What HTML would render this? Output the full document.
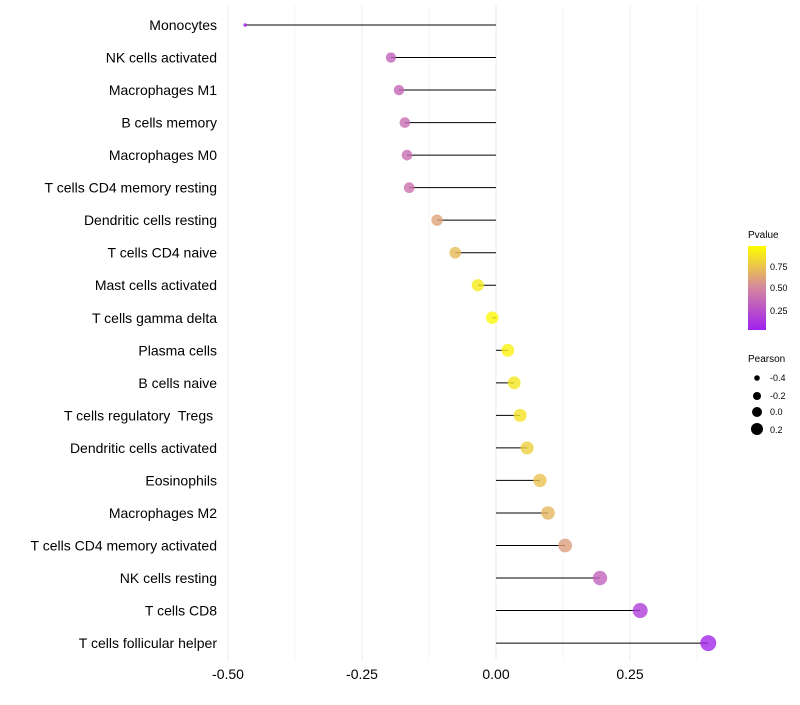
<!DOCTYPE html>
<html><head><meta charset="utf-8"><style>
body{margin:0;background:#fff;font-family:"Liberation Sans",sans-serif;}
text{white-space:pre;}
</style></head><body>
<svg id="c" width="800" height="700" xmlns="http://www.w3.org/2000/svg">
<defs><linearGradient id="pg" x1="0" y1="1" x2="0" y2="0">
<stop offset="0" stop-color="#a020f0"/><stop offset="0.5" stop-color="#d4869f"/><stop offset="1" stop-color="#ffff00"/></linearGradient></defs>
<g id="grid"></g><g id="marks"></g><g id="labels"></g>
<g font-size="9">
<text x="748" y="238" font-size="10">Pvalue</text>
<rect x="748" y="246" width="18" height="84" fill="url(#pg)"/>
<text x="770" y="270">0.75</text><text x="770" y="291">0.50</text><text x="770" y="314">0.25</text>
</g>
<g font-size="9">
<text x="748" y="362" font-size="10">Pearson</text>
<circle cx="757" cy="378" r="2.8"/><text x="770" y="381">-0.4</text>
<circle cx="757" cy="396" r="4"/><text x="770" y="399">-0.2</text>
<circle cx="757" cy="412" r="5"/><text x="770" y="415">0.0</text>
<circle cx="757" cy="429" r="6"/><text x="770" y="433">0.2</text>
</g>
</svg>
<script>
const categories=["Monocytes","NK cells activated","Macrophages M1","B cells memory","Macrophages M0","T cells CD4 memory resting","Dendritic cells resting","T cells CD4 naive","Mast cells activated","T cells gamma delta","Plasma cells","B cells naive","T cells regulatory  Tregs ","Dendritic cells activated","Eosinophils","Macrophages M2","T cells CD4 memory activated","NK cells resting","T cells CD8","T cells follicular helper"];
const pearson=[-0.468,-0.196,-0.181,-0.170,-0.166,-0.162,-0.110,-0.076,-0.034,-0.007,0.022,0.034,0.045,0.058,0.082,0.097,0.129,0.194,0.269,0.396];
const pvalues=[0.001,0.32,0.35,0.38,0.38,0.4,0.62,0.72,0.92,0.97,0.95,0.9,0.88,0.8,0.75,0.7,0.6,0.33,0.14,0.04];
const ticks=[-0.5,-0.25,0,0.25];
const tickLabels=["-0.50","-0.25","0.00","0.25"];
const NS="http://www.w3.org/2000/svg";
const x=v=>496+v*536;
const y=i=>25+i*32.53;
const rS=v=>1.5+Math.sqrt(Math.max(0,v+0.47)/0.87)*6.5;
function col(p){const s=[[0,[160,32,240]],[0.5,[212,134,159]],[1,[255,255,0]]];let a=s[0],b=s[1];if(p>0.5){a=s[1];b=s[2];}const t=(p-a[0])/(b[0]-a[0]);const c=a[1].map((v,k)=>Math.round(v+(b[1][k]-v)*t));return `rgb(${c})`;}
function mk(t,at,parent){const e=document.createElementNS(NS,t);for(const k in at)e.setAttribute(k,at[k]);parent.appendChild(e);return e;}
const g=document.getElementById('grid'),m=document.getElementById('marks'),l=document.getElementById('labels');
for(let i=0;i<ticks.length;i++){
 const gl=mk('line',{x1:x(ticks[i]),x2:x(ticks[i]),y1:5,y2:660,stroke:'#ebebeb','stroke-width':1},g);
 
 
 const mn=mk('line',{x1:x(ticks[i]+0.125),x2:x(ticks[i]+0.125),y1:5,y2:660,stroke:'#f4f4f4','stroke-width':1},g);
 
 
 const tl=mk('text',{x:x(ticks[i]),y:679,'text-anchor':'middle','font-size':14,fill:'#000'},l);
 tl.textContent=tickLabels[i];
 
 
}
categories.forEach((c,i)=>{
 const t=mk('text',{x:217,y:y(i)+5,'text-anchor':'end','font-size':14,fill:'#000'},l);
 t.textContent=c;
 
 
 const ln=mk('line',{x1:x(0),x2:x(pearson[i]),y1:y(i),y2:y(i),stroke:'#000','stroke-width':1},m);
 
 
 const pt=mk('circle',{cx:x(pearson[i]),cy:y(i),r:rS(pearson[i]),fill:col(pvalues[i]),'fill-opacity':0.8},m);
 
 
});
</script>
</body></html>
